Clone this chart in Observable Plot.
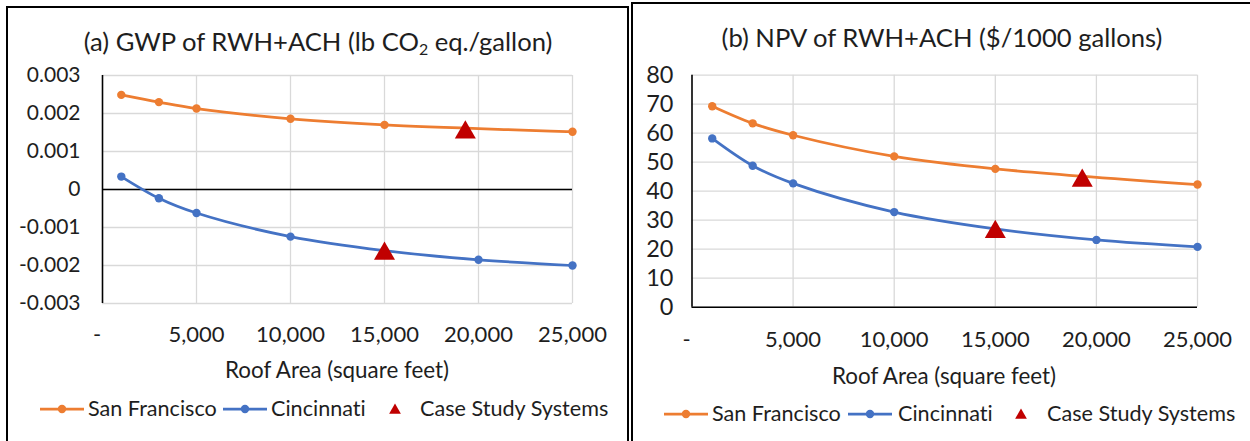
<!DOCTYPE html>
<html><head><meta charset="utf-8">
<script src="https://cdn.jsdelivr.net/npm/d3@7"></script>
<script src="https://cdn.jsdelivr.net/npm/@observablehq/plot@0.6"></script>
<style>
body{margin:0;background:#fff;font-family:Lato,"Noto Sans",sans-serif;font-variant-ligatures:none;}
#root{position:relative;width:1250px;height:441px;overflow:hidden;background:#fff;}
.panel{position:absolute;border:2px solid #000;box-sizing:border-box;}
.abs{position:absolute;white-space:nowrap;color:#1e1e1e;line-height:1;}
.c{transform:translate(-50%,-50%);}
.l{transform:translate(0,-50%);}
svg.plot{position:absolute;font-variant-ligatures:none;}
</style></head><body><div id="root"></div>
<script>
// ---- data ----
const sfX = [1000, 3000, 5000, 10000, 15000, 25000];
const cinX = [1000, 3000, 5000, 10000, 15000, 20000, 25000];
const gwpSF = [0.00249, 0.00230, 0.00213, 0.00186, 0.00170, 0.00152];
const gwpCin = [0.00034, -0.00023, -0.00062, -0.00124, -0.00161, -0.00185, -0.00200];
const npvSF = [69.3, 63.4, 59.3, 52.0, 47.7, 42.3];
const npvCin = [58.2, 48.8, 42.7, 32.8, 27.0, 23.2, 20.8];
const caseX = [19300, 15000];
const gwpCase = [0.00158, -0.00161];
const npvCase = [44.7, 27.0];
const xTicks = [0, 5000, 10000, 15000, 20000, 25000];
const gwpTicks = [0.003, 0.002, 0.001, 0, -0.001, -0.002, -0.003];
const npvTicks = [0, 10, 20, 30, 40, 50, 60, 70, 80];
const seriesNames = ["San Francisco", "Cincinnati", "Case Study Systems"];
const colors = {sf: "#ED7D31", cin: "#4472C4", cs: "#C00000"};

const root = document.getElementById("root");
function addDiv(html, x, y, cls, size) {
  const d = document.createElement("div");
  d.className = "abs " + cls;
  d.style.left = x + "px"; d.style.top = y + "px"; d.style.fontSize = size + "px";
  d.innerHTML = html;
  root.appendChild(d);
  return d;
}
function panelBox(x, y, w, h) {
  const d = document.createElement("div");
  d.className = "panel";
  Object.assign(d.style, {left: x + "px", top: y + "px", width: w + "px", height: h + "px"});
  root.appendChild(d);
}
const pts = (xs, ys) => xs.map((x, i) => ({x, y: ys[i]}));
const fmtX = d => d === 0 ? "-\u2002" : d3.format(",")(d);

function chart(o) {
  const sf = pts(sfX, o.sf), cin = pts(cinX, o.cin), cs = pts(caseX, o.cs);
  const grid = {stroke: "#d9d9d9", strokeOpacity: 1, strokeWidth: 1.3};
  const svg = Plot.plot({
    width: o.width, height: o.height,
    marginLeft: o.ml, marginRight: o.mr, marginTop: o.mt, marginBottom: o.mb,
    style: {fontFamily: "Lato", color: "#1e1e1e", background: "transparent", overflow: "visible"},
    x: {domain: [0, 25000]},
    y: {domain: o.ydomain},
    marks: [
      Plot.gridX(xTicks.slice(1), grid),
      Plot.gridY(o.yticks, grid),
      Plot.ruleY([0], {stroke: "#000", strokeWidth: 1.6}),
      Plot.ruleX([0], {stroke: "#000", strokeWidth: 1.6}),
      Plot.line(sf, {x: "x", y: "y", stroke: colors.sf, strokeWidth: 2.75, curve: "catmull-rom"}),
      Plot.dot(sf, {x: "x", y: "y", r: 4.2, fill: colors.sf}),
      Plot.line(cin, {x: "x", y: "y", stroke: colors.cin, strokeWidth: 2.75, curve: "catmull-rom"}),
      Plot.dot(cin, {x: "x", y: "y", r: 4.2, fill: colors.cin}),
      Plot.dot(cs, {x: "x", y: "y", r: 7.8, symbol: "triangle", fill: colors.cs, dy: 3}),
      Plot.axisY(o.yticks, {tickSize: 0, tickPadding: o.ypad, fontSize: o.yfs, tickFormat: o.yfmt, label: null}),
      Plot.axisX(xTicks, {tickSize: 0, tickPadding: o.xpad, fontSize: 22, tickFormat: fmtX, label: null})
    ]
  });
  svg.classList.add("plot");
  svg.style.left = o.left + "px"; svg.style.top = o.top + "px";
  root.appendChild(svg);
}

// panel borders
panelBox(6, 6, 623, 460);
panelBox(631, 2, 640, 460);

// ---- left panel ----
addDiv("(a) GWP of RWH+ACH (lb CO<sub style='font-size:0.62em;vertical-align:-0.3em'>2</sub> eq./gallon)", 318, 43, "c", 25.6);
chart({left: 7, top: 55, width: 621, height: 330, ml: 95, mr: 56, mt: 20, mb: 82,
  ydomain: [-0.003, 0.003], yticks: gwpTicks, ypad: 22, yfs: 21,
  yfmt: d => d === 0 ? "0" : d.toFixed(3), xpad: 23,
  sf: gwpSF, cin: gwpCin, cs: gwpCase});
addDiv("Roof Area (square feet)", 337, 370, "c", 22.4);

// ---- right panel ----
addDiv("(b) NPV of RWH+ACH ($/1000 gallons)", 942, 38, "c", 25.6);
chart({left: 632, top: 55, width: 618, height: 330, ml: 59.5, mr: 53, mt: 19.7, mb: 78.3,
  ydomain: [0, 80], yticks: npvTicks, ypad: 18.5, yfs: 23.5,
  yfmt: d => String(d), xpad: 24,
  sf: npvSF, cin: npvCin, cs: npvCase});
addDiv("Roof Area (square feet)", 944, 376, "c", 22.4);

// ---- legends ----
function swatchLine(color, x, y) {
  const ns = "http://www.w3.org/2000/svg";
  const s = document.createElementNS(ns, "svg");
  s.setAttribute("width", 44); s.setAttribute("height", 12);
  Object.assign(s.style, {position: "absolute", left: x + "px", top: (y - 6) + "px"});
  s.innerHTML = `<line x1="0" x2="44" y1="6" y2="6" stroke="${color}" stroke-width="2.75"/><circle cx="22" cy="6" r="4.2" fill="${color}"/>`;
  root.appendChild(s);
}
function swatchTri(x, y) {
  const ns = "http://www.w3.org/2000/svg";
  const s = document.createElementNS(ns, "svg");
  s.setAttribute("width", 14); s.setAttribute("height", 14);
  Object.assign(s.style, {position: "absolute", left: (x - 7) + "px", top: (y - 7) + "px"});
  s.innerHTML = `<path d="${d3.symbol(d3.symbolTriangle, 60)()}" transform="translate(7,8.3)" fill="${colors.cs}"/>`;
  root.appendChild(s);
}
function legend(y, p) {
  swatchLine(colors.sf, p[0], y);
  addDiv(seriesNames[0], p[1], y, "l", 21.6);
  swatchLine(colors.cin, p[2], y);
  addDiv(seriesNames[1], p[3], y, "l", 21.6);
  swatchTri(p[4], y);
  addDiv(seriesNames[2], p[5], y, "l", 21.6);
}
legend(409, [40, 88, 223, 271, 395, 420]);
legend(414, [664, 712, 848, 898, 1021, 1047]);
</script></body></html>
